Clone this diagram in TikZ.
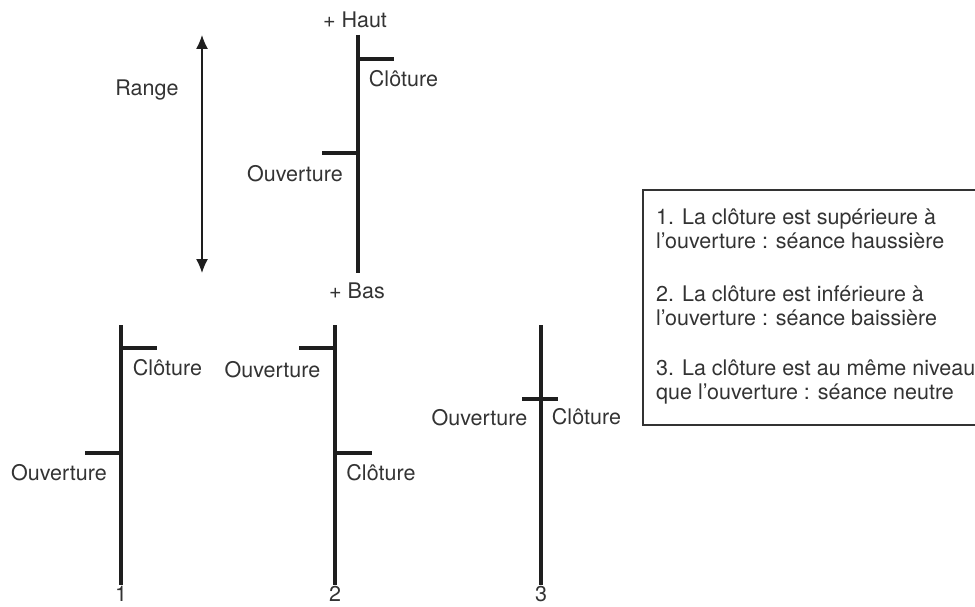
\documentclass[tikz,border=0pt]{standalone}
\usepackage{fontspec}
\setmainfont{TeX Gyre Heros}
\usetikzlibrary{arrows.meta,positioning}
\definecolor{txt}{HTML}{333333}
\definecolor{ink}{HTML}{1E1E1E}

\begin{document}
\begin{tikzpicture}[x=1pt,y=-1pt,
  wick/.style={draw=ink,line width=4pt},
  tick/.style={draw=ink,line width=3.5pt},
  lbl/.style={text=txt,font=\fontsize{21.5}{23.5}\selectfont,inner sep=0pt},
  note/.style={lbl,align=left,anchor=west}]
  \useasboundingbox (0,0) rectangle (975,607);

  % range arrow
  \coordinate (rtop) at (202,35);
  \coordinate (rbot) at (202,273);
  \draw[ink,line width=1.2pt,{Latex[length=14pt,width=12pt]}-{Latex[length=14pt,width=12pt]}] (rtop) -- (rbot);
  \node[lbl] (range) at (147,90) {Range};

  % reference candle
  \coordinate (t0) at (357.5,35);
  \coordinate (b0) at (357.5,273);
  \draw[wick] (t0) -- (b0);
  \draw[tick] (357.5,59) -- (394,59);
  \draw[tick] (322,153) -- (357.5,153);
  \node[lbl] (haut) at (355,20) {+ Haut};
  \node[lbl] (bas) at (357,291) {+ Bas};
  \node[lbl] (clo0) at (403.5,79) {Clôture};
  \node[lbl] (ouv0) at (295,174) {Ouverture};

  % candle 1
  \coordinate (t1) at (121,325);
  \coordinate (b1) at (121,585);
  \draw[wick] (t1) -- (b1);
  \draw[tick] (121,348) -- (157,348);
  \draw[tick] (85,453) -- (121,453);
  \node[lbl] (clo1) at (167.5,368) {Clôture};
  \node[lbl] (ouv1) at (59,473) {Ouverture};
  \node[lbl] (n1) at (121,594) {1};

  % candle 2
  \coordinate (t2) at (335,325);
  \coordinate (b2) at (335,585);
  \draw[wick] (t2) -- (b2);
  \draw[tick] (299,348) -- (335,348);
  \draw[tick] (335,453) -- (372,453);
  \node[lbl] (ouv2) at (272.5,370) {Ouverture};
  \node[lbl] (clo2) at (381,473) {Clôture};
  \node[lbl] (n2) at (335,594) {2};

  % candle 3
  \coordinate (t3) at (541,325);
  \coordinate (b3) at (541,585);
  \draw[wick] (t3) -- (b3);
  \draw[tick] (522,399) -- (558,399);
  \node[lbl] (ouv3) at (479.5,418) {Ouverture};
  \node[lbl] (clo3) at (586.5,417) {Clôture};
  \node[lbl] (n3) at (541,594) {3};

  % legend box
  \draw[draw=txt,line width=1.3pt] (643,190) rectangle (985,425);
  \node[note] (lg1) at (656,229) {1. La clôture est supérieure à\\l’ouverture : séance haussière};
  \node[note] (lg2) at (656,306) {2. La clôture est inférieure à\\l’ouverture : séance baissière};
  \node[note] (lg3) at (656,382) {3. La clôture est au même niveau\\que l’ouverture : séance neutre};
\end{tikzpicture}
\end{document}
